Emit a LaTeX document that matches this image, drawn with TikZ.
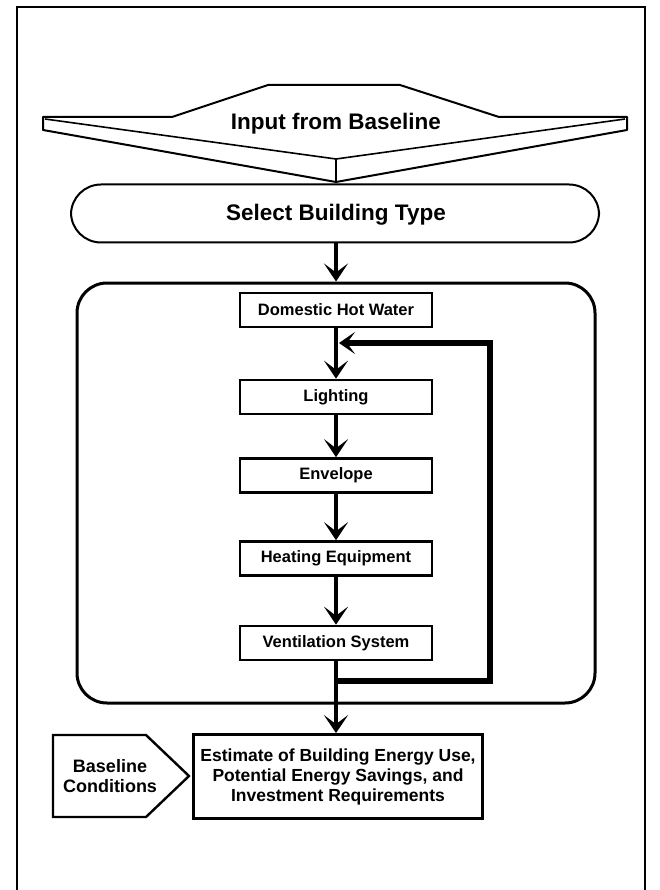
\documentclass[tikz,border=0pt]{standalone}
\usepackage{fontspec}
\setmainfont{Liberation Sans}
\usetikzlibrary{arrows.meta}
\begin{document}
\begin{tikzpicture}[x=1pt,y=-1pt,
  stepbox/.style={draw,line width=2.6pt,minimum width=192pt,minimum height=34pt,inner sep=0pt,
    font=\bfseries\fontsize{16.5}{18}\selectfont},
  flow/.style={line width=4pt,-{Stealth[length=18pt 0 0,width=24pt 0,inset=9pt 0]}},
  loopflow/.style={line width=5.5pt,-{Stealth[length=16pt 0 0,width=22pt 0,inset=8pt 0]}},
  outline/.style={draw,line width=2pt,line join=round}
]
\useasboundingbox (0,0) rectangle (659,890);
% frame
\draw[line width=1.8pt] (17,890) -- (17,7) -- (645,7) -- (645,890);

% banner: Input from Baseline
\draw[outline] (43,117) -- (172,117) -- (268,85) -- (400,85) -- (499,117) -- (627,117)
  -- (627,130) -- (336,182) -- (43,130) -- cycle;
\draw[line width=1.6pt] (45,119) -- (336,159) -- (625,119);
\draw[line width=1.6pt] (336,159) -- (336,182);
\coordinate (inpt) at (336,182);
\node[anchor=base,font=\bfseries\fontsize{22.5}{24}\selectfont] (inp) at (336,130) {Input from Baseline};

% select building type
\node[draw,line width=2pt,rounded corners=30pt,minimum width=528pt,minimum height=58pt] (sel) at (335,213.5) {};
\node[anchor=base,font=\bfseries\fontsize{22.5}{24}\selectfont] (seltxt) at (336,221) {Select Building Type};

% big container
\node[draw,line width=3pt,rounded corners=30pt,minimum width=518pt,minimum height=420pt] (big) at (336,493) {};

% steps
\node[stepbox] (dhw) at (336,310) {Domestic Hot Water};
\node[stepbox] (light) at (336,397) {Lighting};
\node[stepbox] (env) at (336,475.5) {Envelope};
\node[stepbox] (heat) at (336,558.5) {Heating Equipment};
\node[stepbox] (vent) at (336,643) {Ventilation System};

% estimate box
\node[draw,line width=2.8pt,minimum width=289pt,minimum height=84pt,inner sep=0pt,align=center,
  font=\bfseries\fontsize{17.5}{20}\selectfont] (est) at (338,776.5)
  {Estimate of Building Energy Use,\\Potential Energy Savings, and\\Investment Requirements};

% baseline conditions pentagon
\draw[outline,line width=2.4pt,line join=miter] (53,735) -- (146,735) -- (189,776) -- (146,817) -- (53,817) -- cycle;
\node[align=center,font=\bfseries\fontsize{18}{20}\selectfont] (bc) at (110,776) {Baseline\\Conditions};

% arrows
\draw[flow] (sel.south -| big.north) -- (big.north);
\draw[flow] (dhw) -- (light);
\draw[flow] (light) -- (env);
\draw[flow] (env) -- (heat);
\draw[flow] (heat) -- (vent);
\draw[flow] (vent.south) -- (vent.south |- est.north);

% feedback loop
\coordinate (lp1) at (334,681);
\coordinate (lpc) at (490,343);
\coordinate (join) at (339,343);
\draw[loopflow,line join=miter] (lp1) -| (lpc) -- (join);
\end{tikzpicture}
\end{document}
